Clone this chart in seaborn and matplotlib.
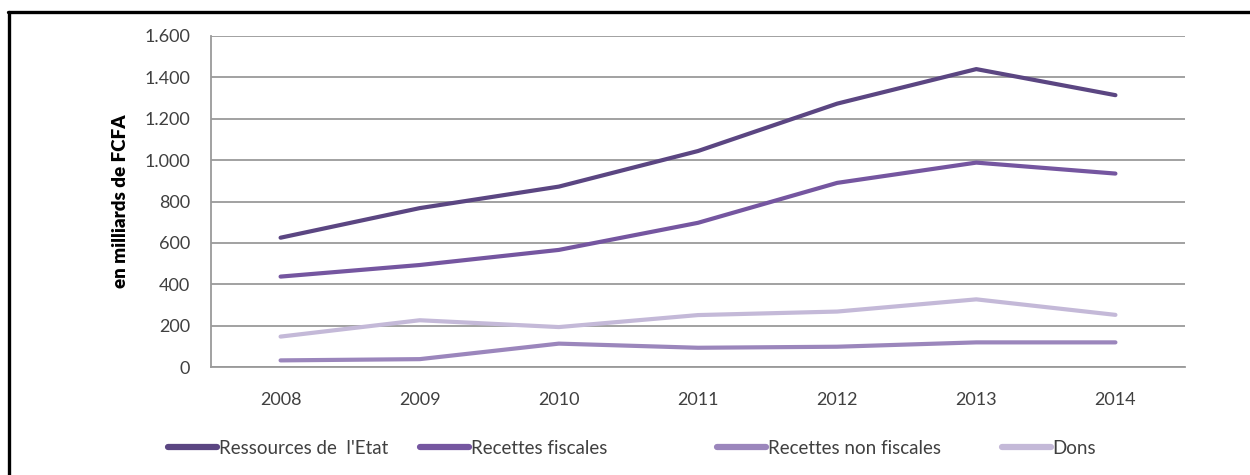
import matplotlib
matplotlib.use("Agg")
import matplotlib.pyplot as plt
from matplotlib.lines import Line2D
from matplotlib.ticker import FuncFormatter
import seaborn as sns
import pandas as pd

years = ["2008", "2009", "2010", "2011", "2012", "2013", "2014"]
ressources_etat = [625, 768, 872, 1044, 1273, 1440, 1314]
recettes_fiscales = [437, 493, 566, 697, 890, 988, 935]
recettes_non_fiscales = [32, 38, 113, 93, 98, 119, 119]
dons = [147, 226, 193, 251, 268, 327, 252]
series_names = ["Ressources de  l'Etat", "Recettes fiscales",
                "Recettes non fiscales", "Dons"]
y_label = "en milliards de FCFA"

palette = ["#5B4682", "#7556A0", "#9B86BC", "#C4B9D8"]

rows = []
for name, vals in zip(series_names,
                      [ressources_etat, recettes_fiscales,
                       recettes_non_fiscales, dons]):
    for i, v in enumerate(vals):
        rows.append({"pos": i, "year": years[i], "serie": name, "value": v})
df = pd.DataFrame(rows)

sns.set_style("white")
plt.rcParams["font.family"] = ["Lato", "DejaVu Sans"]

fig = plt.figure(figsize=(12.5, 4.75), dpi=100)
ax = fig.add_axes([211 / 1250, 1 - 367 / 475, (1185 - 211) / 1250, (367 - 36) / 475])

sns.lineplot(data=df, x="pos", y="value", hue="serie", palette=palette,
             linewidth=3.0, ax=ax, legend=False, solid_capstyle="round")

ax.set_xlim(-0.5, 6.5)
ax.set_ylim(0, 1600)
ax.set_yticks(range(0, 1601, 200))
ax.yaxis.set_major_formatter(FuncFormatter(lambda v, p: f"{int(v):,}".replace(",", ".")))
ax.set_xticks(range(len(years)))
ax.set_xticklabels(years)
ax.tick_params(axis="both", length=0, labelsize=13, colors="#404040")
ax.tick_params(axis="y", pad=15)
ax.tick_params(axis="x", pad=18)
ax.set_xlabel("")
ax.set_ylabel(y_label, fontsize=13.5, fontweight="heavy", color="black", labelpad=11)

ax.yaxis.grid(True, color="#9A9A9A", linewidth=1.3)
ax.set_axisbelow(True)
for side in ["top", "right"]:
    ax.spines[side].set_visible(False)
for side in ["left", "bottom"]:
    ax.spines[side].set_color("#9A9A9A")
    ax.spines[side].set_linewidth(1.3)

# one legend entry per slot along the bottom
legend_x = [168, 420, 717, 1002]
for name, color, x0 in zip(series_names, palette, legend_x):
    h = Line2D([0], [0], color=color, linewidth=4.5, solid_capstyle="round")
    leg = fig.legend([h], [name], loc="center left",
                     bbox_to_anchor=(x0 / 1250, 1 - 448 / 475),
                     frameon=False, fontsize=13.5, handlelength=2.6,
                     handletextpad=0.1, borderaxespad=0, borderpad=0)
    for t in leg.get_texts():
        t.set_color("#404040")

# outer frame lines
fig.add_artist(Line2D([8.5 / 1250, 8.5 / 1250], [0, 1 - 12 / 475], color="black",
                      linewidth=2.4, transform=fig.transFigure))
fig.add_artist(Line2D([8 / 1250, 1], [1 - 12 / 475, 1 - 12 / 475], color="black",
                      linewidth=2.4, transform=fig.transFigure))

fig.savefig("out.png", dpi=100, facecolor="white")
